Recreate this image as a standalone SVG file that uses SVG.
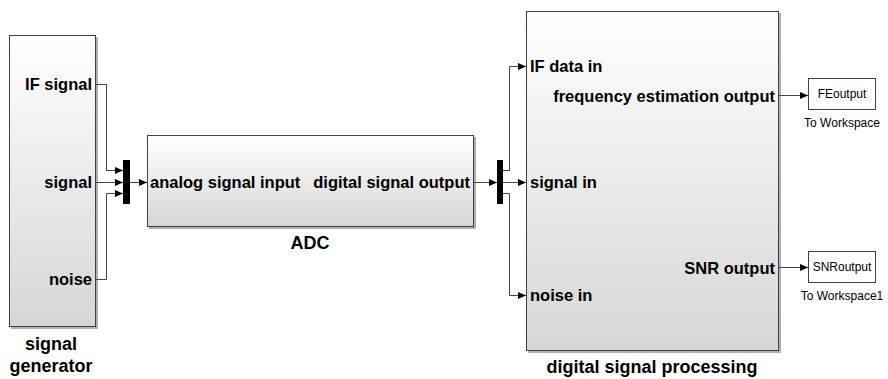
<svg xmlns="http://www.w3.org/2000/svg" width="888" height="379" viewBox="0 0 888 379">
<style>
.blk{stroke:#404040;stroke-width:1;}
.sh{fill:#b0b0b0;}
.port{font-family:"Liberation Sans",Arial,sans-serif;font-weight:bold;font-size:16.5px;fill:#000;}
.name{font-family:"Liberation Sans",Arial,sans-serif;font-weight:bold;font-size:18px;fill:#000;text-anchor:middle;}
.ws{font-family:"Liberation Sans",Arial,sans-serif;font-size:12px;fill:#000;text-anchor:middle;}
.wire{fill:none;stroke:#444;stroke-width:1;}
.mux{fill:#000;}
.wsbox{fill:#fff;stroke:#404040;stroke-width:1;}
</style>
<defs>
<linearGradient id="g" x1="0" y1="0" x2="0" y2="1">
<stop offset="0" stop-color="#ffffff"/>
<stop offset="1" stop-color="#d6d6d6"/>
</linearGradient>
<marker id="arr" markerWidth="8" markerHeight="8" refX="8" refY="4" orient="auto" markerUnits="userSpaceOnUse">
<path d="M0,0.5 L8,4 L0,7.5 Z" fill="#000"/>
</marker>
</defs>
<rect width="888" height="379" fill="#fff"/>

<g id="signal_generator">
<rect class="sh" x="11" y="37" width="87" height="292"/>
<rect class="blk" x="9.5" y="35.5" width="86" height="291" fill="url(#g)"/>
<text class="port" x="92" y="90" text-anchor="end">IF signal</text>
<text class="port" x="92" y="188" text-anchor="end">signal</text>
<text class="port" x="92" y="285" text-anchor="end">noise</text>
<text class="name" x="51" y="350">signal</text>
<text class="name" x="51" y="372">generator</text>
</g>

<g id="mux1">
<rect class="mux" x="123" y="160" width="7" height="44"/>
</g>

<g id="adc">
<rect class="sh" x="149" y="137" width="327" height="92"/>
<rect class="blk" x="147.5" y="135.5" width="326" height="91" fill="url(#g)"/>
<text class="port" x="150" y="188">analog signal input</text>
<text class="port" x="470" y="188" text-anchor="end">digital signal output</text>
<text class="name" x="310" y="249">ADC</text>
</g>

<g id="mux2">
<rect class="mux" x="497" y="160" width="6" height="44"/>
</g>

<g id="dsp">
<rect class="sh" x="528" y="13" width="253" height="340"/>
<rect class="blk" x="526.5" y="11.5" width="252" height="339" fill="url(#g)"/>
<text class="port" x="530" y="72">IF data in</text>
<text class="port" x="530" y="188">signal in</text>
<text class="port" x="530" y="301">noise in</text>
<text class="port" x="775" y="102" text-anchor="end">frequency estimation output</text>
<text class="port" x="775" y="274" text-anchor="end">SNR output</text>
<text class="name" x="652" y="373">digital signal processing</text>
</g>

<g id="to_workspace">
<rect class="wsbox" x="808.5" y="78.5" width="67" height="31"/>
<text class="ws" x="842" y="98">FEoutput</text>
<text class="ws" x="842" y="127">To Workspace</text>
</g>

<g id="to_workspace1">
<rect class="wsbox" x="808.5" y="251.5" width="67" height="31"/>
<text class="ws" x="842" y="271">SNRoutput</text>
<text class="ws" x="842" y="300">To Workspace1</text>
</g>

<g id="connectors">
<path class="wire" d="M96,84.5 H106.5 V170.5 H123" marker-end="url(#arr)"/>
<path class="wire" d="M96,182.5 H123" marker-end="url(#arr)"/>
<path class="wire" d="M96,279.5 H106.5 V193.5 H123" marker-end="url(#arr)"/>
<path class="wire" d="M130,182.5 H147" marker-end="url(#arr)"/>
<path class="wire" d="M474,182.5 H497" marker-end="url(#arr)"/>
<path class="wire" d="M503,170.5 H509.5 V66.5 H526" marker-end="url(#arr)"/>
<path class="wire" d="M503,182.5 H526" marker-end="url(#arr)"/>
<path class="wire" d="M503,193.5 H509.5 V295.5 H526" marker-end="url(#arr)"/>
<path class="wire" d="M779,95.5 H808" marker-end="url(#arr)"/>
<path class="wire" d="M779,267.5 H808" marker-end="url(#arr)"/>
</g>
</svg>
